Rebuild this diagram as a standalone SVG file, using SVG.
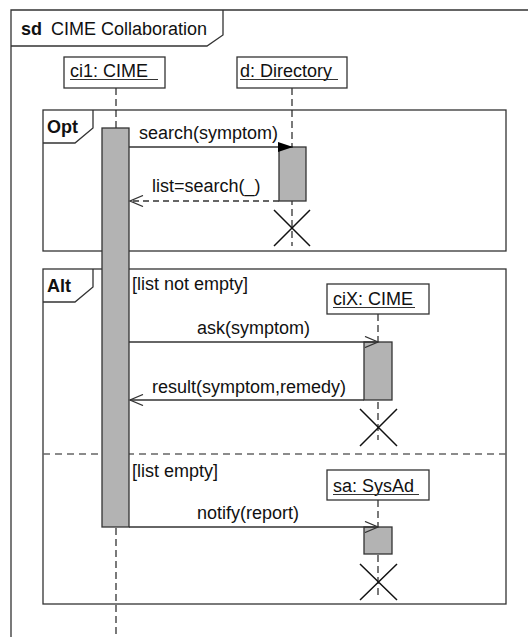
<svg xmlns="http://www.w3.org/2000/svg" width="528" height="637" viewBox="0 0 528 637">
<style>
text{font-family:"Liberation Sans",Arial,Helvetica,sans-serif;font-size:18px;fill:#111}
.b{font-weight:bold}
.frame{fill:none;stroke:#333;stroke-width:1.3}
.box{fill:#fff;stroke:#333;stroke-width:1.3}
.life{stroke:#222;stroke-width:1.2;stroke-dasharray:7,4;fill:none}
.act{fill:#b3b3b3;stroke:#333;stroke-width:1.3}
.msg{stroke:#333;stroke-width:1.3;fill:none}
.ret{stroke:#333;stroke-width:1.3;fill:none;stroke-dasharray:6,4}
.sep{stroke:#666;stroke-width:1.3;stroke-dasharray:7,5;fill:none}
.x{stroke:#111;stroke-width:1.5;fill:none}
.ul{stroke:#333;stroke-width:1.2}
</style>
<defs>
<marker id="open" markerUnits="userSpaceOnUse" markerWidth="16" markerHeight="12" refX="14" refY="6" orient="auto" viewBox="0 0 16 12">
<path d="M1,0.5 L14,6 L1,11.5" fill="none" stroke="#333" stroke-width="1.3"/>
</marker>
<marker id="filled" markerUnits="userSpaceOnUse" markerWidth="16" markerHeight="12" refX="15" refY="6" orient="auto" viewBox="0 0 16 12">
<path d="M0,1 L15,6 L0,11 z" fill="#000"/>
</marker>
</defs>

<g id="frame-sd">
<path class="frame" d="M11,637 L11,10 L528,10"/>
<path class="frame" d="M11,46 L207,46 L223,35 L223,10"/>
<text x="21" y="35" class="b">sd</text>
<text x="51" y="35">CIME Collaboration</text>
</g>

<g id="frame-opt">
<rect class="frame" x="43" y="110" width="463" height="141"/>
<path class="frame" d="M43,143 L75,143 L93,128 L93,110"/>
<text x="47" y="133" class="b">Opt</text>
</g>

<g id="frame-alt">
<rect class="frame" x="43" y="269" width="463" height="335"/>
<path class="frame" d="M43,302 L75,302 L93,287 L93,269"/>
<text x="47" y="292" class="b">Alt</text>
<line class="sep" x1="43" y1="454" x2="506" y2="454"/>
<text x="132" y="290">[list not empty]</text>
<text x="132" y="477">[list empty]</text>
</g>

<g id="ci1">
<line class="life" x1="116" y1="88" x2="116" y2="637"/>
<rect class="box" x="64" y="57" width="101" height="31"/>
<text x="70" y="77">ci1: CIME</text>
<line class="ul" x1="70" y1="79.5" x2="158" y2="79.5"/>
<rect class="act" x="102" y="128" width="27" height="399"/>
</g>

<g id="directory">
<line class="life" x1="292" y1="88" x2="292" y2="246"/>
<rect class="box" x="237" y="57" width="110" height="31"/>
<text x="240" y="77">d: Directory</text>
<line class="ul" x1="240" y1="79.5" x2="338" y2="79.5"/>
<rect class="act" x="279" y="147" width="27" height="54"/>
<path class="x" d="M274,210 L310,246 M310,210 L274,246"/>
</g>

<g id="ciX">
<line class="life" x1="378" y1="314" x2="378" y2="440"/>
<rect class="box" x="327" y="284" width="102" height="30"/>
<text x="333" y="305">ciX: CIME</text>
<line class="ul" x1="333" y1="307.5" x2="415" y2="307.5"/>
<rect class="act" x="364" y="342" width="28" height="58"/>
<path class="x" d="M360,409 L397,446 M397,409 L360,446"/>
</g>

<g id="sa">
<line class="life" x1="378" y1="500" x2="378" y2="598"/>
<rect class="box" x="327" y="470" width="102" height="30"/>
<text x="333" y="492">sa: SysAd</text>
<line class="ul" x1="333" y1="494.5" x2="419" y2="494.5"/>
<rect class="act" x="364" y="527" width="28" height="27"/>
<path class="x" d="M360,564 L397,600 M397,564 L360,600"/>
</g>

<g id="connectors">
<line class="msg" x1="129" y1="147" x2="293" y2="147" marker-end="url(#filled)"/>
<text x="139" y="139">search(symptom)</text>
<line class="ret" x1="279" y1="201" x2="130" y2="201" marker-end="url(#open)"/>
<text x="152" y="192">list=search(_)</text>
<line class="msg" x1="129" y1="342" x2="378" y2="342" marker-end="url(#open)"/>
<text x="197" y="334">ask(symptom)</text>
<line class="msg" x1="364" y1="400" x2="130" y2="400" marker-end="url(#open)"/>
<text x="152" y="393">result(symptom,remedy)</text>
<line class="msg" x1="129" y1="527" x2="378" y2="527" marker-end="url(#open)"/>
<text x="197" y="519">notify(report)</text>
</g>
</svg>
